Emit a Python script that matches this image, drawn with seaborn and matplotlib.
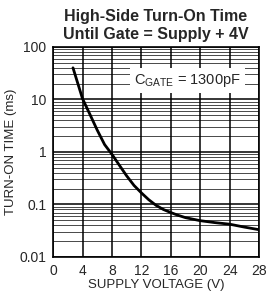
import matplotlib
matplotlib.use("Agg")
import matplotlib.pyplot as plt
import matplotlib.ticker as mticker
import pandas as pd
import seaborn as sns

# values
supply_v = [2.7, 4, 5, 6, 7, 8, 9, 10, 11, 12, 13, 14, 15, 16, 17, 18, 20, 22, 24, 26, 28]
turn_on_ms = [40, 10.3, 5.2, 2.6, 1.38, 0.9, 0.56, 0.35, 0.23, 0.166, 0.123, 0.096,
              0.08, 0.07, 0.062, 0.056, 0.049, 0.045, 0.042, 0.037, 0.033]
x_ticks = [0, 4, 8, 12, 16, 20, 24, 28]
y_ticks = [0.01, 0.1, 1, 10, 100]
y_tick_labels = ["0.01", "0.1", "1", "10", "100"]

sns.set_style("white")
plt.rcParams["font.family"] = ["Liberation Sans", "DejaVu Sans"]

df = pd.DataFrame({"v": supply_v, "t": turn_on_ms})

fig = plt.figure(figsize=(2.67, 2.97), dpi=100)
ax = fig.add_axes([0.199, 0.135, 0.771, 0.707])

sns.lineplot(data=df, x="v", y="t", color="black", linewidth=2.0, ax=ax)

ax.set_yscale("log")
ax.set_xlim(0, 28)
ax.set_ylim(0.01, 100)
ax.set_xticks(x_ticks)
ax.set_xticklabels([str(v) for v in x_ticks])
ax.yaxis.set_major_locator(mticker.FixedLocator(y_ticks))
ax.yaxis.set_major_formatter(mticker.FixedFormatter(y_tick_labels))
ax.yaxis.set_minor_locator(mticker.LogLocator(base=10, subs=range(2, 10)))
ax.yaxis.set_minor_formatter(mticker.NullFormatter())

ax.grid(True, which="major", color="black", linewidth=1.1)
ax.grid(True, which="minor", axis="y", color="black", linewidth=0.5)
ax.tick_params(axis="both", which="major", labelsize=10, length=3, color="black",
               pad=2, direction="out")
ax.tick_params(axis="y", which="minor", length=2)
for s in ax.spines.values():
    s.set_color("black")
    s.set_linewidth(1.2)

ax.set_xlabel("SUPPLY VOLTAGE (V)", fontsize=9.5, labelpad=1)
ax.set_ylabel("TURN-ON TIME (ms)", fontsize=9.5, labelpad=2)
ax.set_title("High-Side Turn-On Time\nUntil Gate = Supply + 4V",
             fontsize=11.5, fontweight="bold", pad=6, linespacing=1.2)

ax.text(11.0, 23, r"C$_{\mathregular{GATE}}$ = 1300pF", fontsize=10.5, va="center",
        ha="left", bbox=dict(facecolor="white", edgecolor="none", pad=3))

plt.savefig("out.png", dpi=100)
